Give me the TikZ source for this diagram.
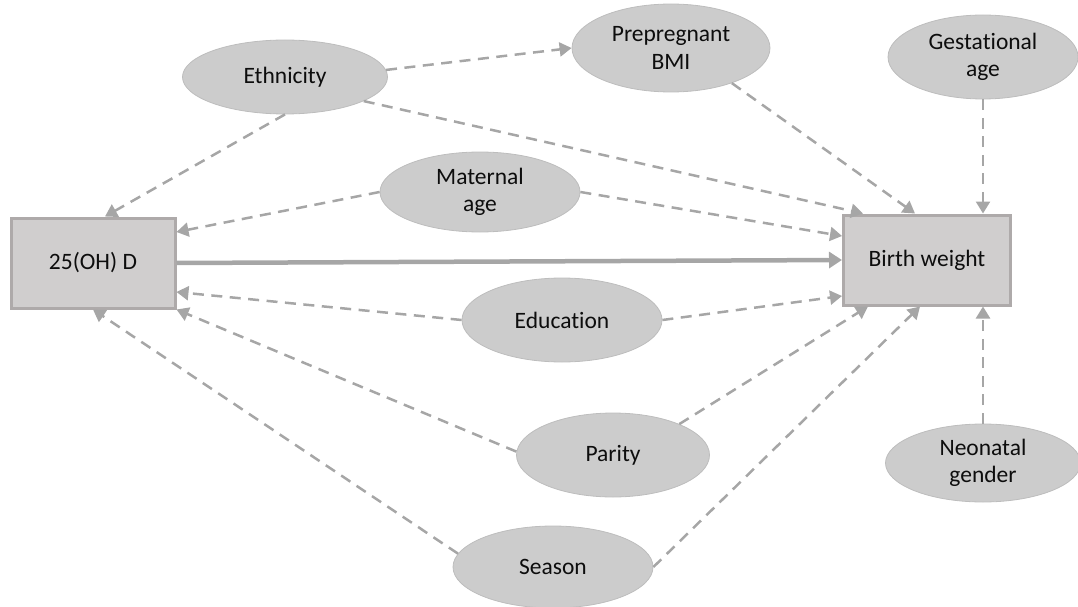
\documentclass[tikz,border=0pt]{standalone}
\usepackage{fontspec}
\setmainfont{Carlito}[Ligatures=NoCommon]
\usetikzlibrary{shapes.geometric,arrows.meta}
\definecolor{boxfill}{HTML}{D0CECE}
\definecolor{boxline}{HTML}{AEAAAA}
\definecolor{ellfill}{HTML}{CCCCCC}
\definecolor{ellline}{HTML}{BDBDBD}
\definecolor{linkgray}{HTML}{A6A6A6}
\begin{document}
\begin{tikzpicture}[x=1pt,y=-1pt,
  factor/.style={ellipse, fill=ellfill, draw=ellline, line width=0.8pt, inner sep=0pt,
    align=center, font=\fontsize{23.5}{27.5}\selectfont, text=black!95},
  var/.style={rectangle, fill=boxfill, draw=boxline, line width=3pt, inner sep=0pt,
    font=\fontsize{23.5}{27.5}\selectfont, text=black!95},
  link/.style={draw=linkgray, line width=2.5pt, dash pattern=on 11pt off 7.5pt,
    -{Triangle[length=12pt,width=14pt]}},
  mainlink/.style={draw=linkgray, line width=4.5pt, -{Triangle[length=13pt,width=16pt]}}]
\useasboundingbox (0,0) rectangle (1078,607);

% exposure and outcome
\node[var, minimum width=164pt, minimum height=90pt] (oh) at (93,263) {25(OH) D};
\node[var, minimum width=167pt, minimum height=90pt] (bw) at (927,260) {Birth weight};

% covariates
\node[factor, minimum width=205pt, minimum height=74pt] (eth) at (285,77) {Ethnicity};
\node[factor, minimum width=198pt, minimum height=88pt] (bmi) at (671,48) {Prepregnant\\BMI};
\node[factor, minimum width=190pt, minimum height=84pt] (ges) at (983,57) {Gestational\\age};
\node[factor, minimum width=200pt, minimum height=80pt] (mat) at (480,192) {Maternal\\age};
\node[factor, minimum width=200pt, minimum height=84pt] (edu) at (562,320) {Education};
\node[factor, minimum width=193pt, minimum height=84pt] (par) at (613,455) {Parity};
\node[factor, minimum width=200pt, minimum height=82pt] (sea) at (553,567) {Season};
\node[factor, minimum width=195pt, minimum height=78pt] (neo) at (983,463) {Neonatal\\gender};

% main effect
\draw[mainlink] (oh.east) -- (bw.west);

% confounding paths
\draw[link] (eth.4) -- (bmi.west);
\draw[link] (eth.south) -- ([xshift=12pt]oh.north);
\draw[link] (eth.-17) -- ([xshift=-64pt]bw.north);
\draw[link] (bmi.-30) -- ([xshift=-12pt]bw.north);
\draw[link] (ges.south) -- (ges.south |- bw.north);
\draw[link] (mat.west) -- ([yshift=31pt]oh.east);
\draw[link] (mat.east) -- ([yshift=24pt]bw.west);
\draw[link] (edu.west) -- ([yshift=-29pt]oh.east);
\draw[link] (edu.east) -- ([yshift=-36pt]bw.west);
\draw[link] (par.178) -- (oh.south east);
\draw[link] (par.25) -- ([xshift=-59pt]bw.south);
\draw[link] (sea.172) -- (oh.south);
\draw[link] (sea.east) -- ([xshift=-7pt]bw.south);
\draw[link] (neo.north) -- (neo.north |- bw.south);
\end{tikzpicture}
\end{document}
